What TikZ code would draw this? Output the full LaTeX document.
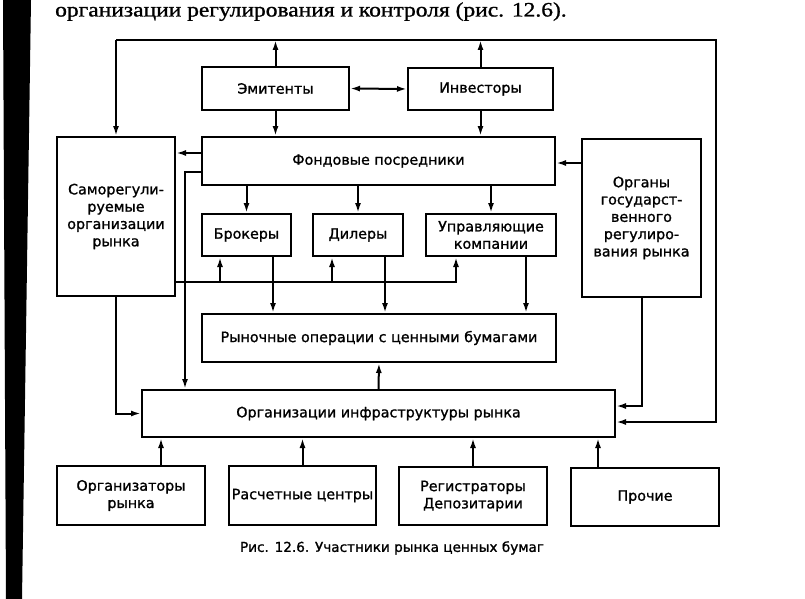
\documentclass[tikz,border=0pt]{standalone}
\usepackage{fontspec}
\usepackage{graphicx}
\setmainfont{DejaVu Sans}
\newfontfamily\boxfont[FakeBold=1.2]{DejaVu Sans}
\newfontfamily\serifcap[FakeBold=1]{Liberation Serif}
\usetikzlibrary{arrows.meta}
\tikzset{
  box/.style={draw, line width=2pt, inner sep=0pt, align=center,
    font=\boxfont\fontsize{14.3pt}{17.3pt}\selectfont},
  arr/.style={line width=2pt, -{Latex[length=10pt,width=6pt]}},
  darr/.style={line width=2pt, {Latex[length=10pt,width=6pt]}-{Latex[length=10pt,width=6pt]}}
}
\begin{document}
\begin{tikzpicture}[x=1pt,y=-1pt]
\useasboundingbox (0,0) rectangle (805,599);
% scan edge
\fill (3,0) -- (31,0) -- (22,599) -- (6,599) -- cycle;
% heading text
\node[anchor=base west, font=\serifcap\fontsize{20.5pt}{24pt}\selectfont, inner sep=0pt] (head) at (55,16.5) {\scalebox{1.146}[1]{организации регулирования и контроля (рис. 12.6).}};
% boxes
\node[box, minimum width=147pt, minimum height=43pt] (em) at (275.5,88.5) {Эмитенты};
\node[box, minimum width=145pt, minimum height=42pt] (inv) at (480.5,89) {Инвесторы};
\node[box, minimum width=353pt, minimum height=48pt] (fp) at (378.5,161) {Фондовые посредники};
\node[box, minimum width=118pt, minimum height=159pt] (sr) at (116,216.5) {Саморегули-\\руемые\\организации\\рынка};
\node[box, minimum width=119pt, minimum height=158pt] (org) at (641.5,218) {Органы\\государст-\\венного\\регулиро-\\вания рынка};
\node[box, minimum width=89pt, minimum height=42pt] (br) at (246.5,235) {Брокеры};
\node[box, minimum width=90pt, minimum height=42pt] (dl) at (358,235) {Дилеры};
\node[box, minimum width=130pt, minimum height=42pt] (up) at (491,235) {Управляющие\\компании};
\node[box, minimum width=354pt, minimum height=48pt] (ry) at (379,338) {Рыночные операции с ценными бумагами};
\node[box, minimum width=473pt, minimum height=47pt] (inf) at (378.5,413.5) {Организации инфраструктуры рынка};
\node[box, minimum width=148pt, minimum height=59pt] (b1) at (131,495.5) {Организаторы\\рынка};
\node[box, minimum width=147pt, minimum height=59pt] (b2) at (302.5,495.5) {Расчетные центры};
\node[box, minimum width=148pt, minimum height=58pt] (b3) at (473,496) {Регистраторы\\Депозитарии};
\node[box, minimum width=148pt, minimum height=58pt] (b4) at (645,497) {Прочие};
% caption
\node[font=\boxfont\fontsize{13.6pt}{15pt}\selectfont, inner sep=0pt] (cap) at (392,548) {Рис. 12.6. Участники рынка ценных бумаг};
% helper coordinates
\coordinate (tl) at (116,40);
\coordinate (tr) at (716,40);
\coordinate (y153) at (0,153);
\coordinate (y163) at (0,163);
\coordinate (y172) at (0,172);
\coordinate (x185) at (185,0);
\coordinate (y282) at (0,282);
\coordinate (y406) at (0,406);
\coordinate (y422) at (0,422);
\coordinate (bx1) at (220,0);
\coordinate (bx2) at (332,0);
\coordinate (bx3) at (456,0);
\coordinate (dx1) at (273,0);
\coordinate (dx2) at (385,0);
\coordinate (dx3) at (526,0);
\coordinate (ux1) at (161,0);
\coordinate (ux4) at (598,0);
% top loop
\draw[arr] (tl) -- (sr.north);
\draw[arr] (tl) -- (tr) -- (tr |- y422) -- (inf.east |- y422);
\draw[arr] (em.north) -- (em.north |- tl);
\draw[arr] (inv.north) -- (inv.north |- tl);
\draw[arr] (em.south) -- (em.south |- fp.north);
\draw[arr] (inv.south) -- (inv.south |- fp.north);
\draw[darr] (em.east) -- (inv.west);
% side connections
\draw[arr] (org.west |- y163) -- (fp.east |- y163);
\draw[arr] (fp.west |- y153) -- (sr.east |- y153);
\draw[arr] (fp.west |- y172) -| (x185 |- inf.north);
% down to brokers etc
\draw[arr] (br.north |- fp.south) -- (br.north);
\draw[arr] (dl.north |- fp.south) -- (dl.north);
\draw[arr] (up.north |- fp.south) -- (up.north);
% bus from SR
\draw[arr] (sr.east |- y282) -| (bx3 |- up.south);
\draw[arr] (bx1 |- y282) -- (bx1 |- br.south);
\draw[arr] (bx2 |- y282) -- (bx2 |- dl.south);
% down to market operations
\draw[arr] (dx1 |- br.south) -- (dx1 |- ry.north);
\draw[arr] (dx2 |- dl.south) -- (dx2 |- ry.north);
\draw[arr] (dx3 |- up.south) -- (dx3 |- ry.north);
\draw[arr] (inf.north) -- (ry.south);
% to infrastructure
\draw[arr] (sr.south) |- (inf.west);
\draw[arr] (org.south) |- (inf.east |- y406);
\draw[arr] (ux1 |- b1.north) -- (ux1 |- inf.south);
\draw[arr] (b2.north) -- (b2.north |- inf.south);
\draw[arr] (b3.north) -- (b3.north |- inf.south);
\draw[arr] (ux4 |- b4.north) -- (ux4 |- inf.south);
\end{tikzpicture}
\end{document}
